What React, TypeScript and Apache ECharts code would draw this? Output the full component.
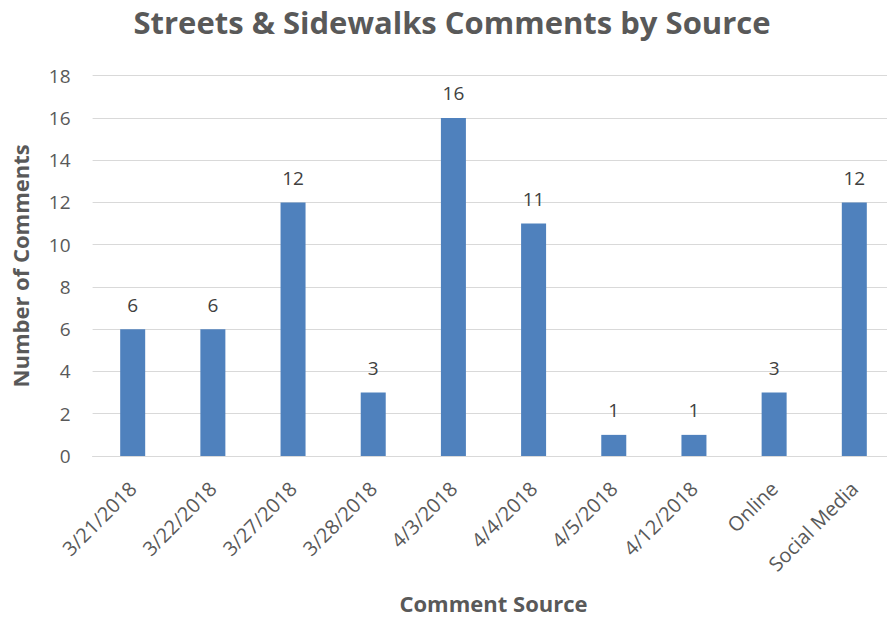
import React, { useEffect, useRef } from "react";
import * as echarts from "echarts";

const categories = ["3/21/2018", "3/22/2018", "3/27/2018", "3/28/2018", "4/3/2018", "4/4/2018", "4/5/2018", "4/12/2018", "Online", "Social Media"];
const commentCounts = [6, 6, 12, 3, 16, 11, 1, 1, 3, 12];
const yTicks = [0, 2, 4, 6, 8, 10, 12, 14, 16, 18];

const FONT = "'Open Sans', 'Noto Sans', sans-serif";

export default function App() {
  const ref = useRef<HTMLDivElement>(null);
  useEffect(() => {
    if (!ref.current) return;
    const chart = echarts.init(ref.current, null, { renderer: "svg" });
    chart.setOption({
      animation: false,
      backgroundColor: "#ffffff",
      title: {
        text: "Streets & Sidewalks Comments by Source",
        left: 447,
        textAlign: "center",
        top: 1,
        textStyle: { fontFamily: FONT, fontSize: 31, fontWeight: "bold", color: "#595959" },
      },
      grid: { left: 92.6, right: 5.6, top: 75.7, bottom: 159, containLabel: false },
      xAxis: {
        type: "category",
        data: categories,
        axisLine: { show: true, lineStyle: { color: "#d9d9d9", width: 1 } },
        axisTick: { show: false },
        axisLabel: { rotate: 45, fontFamily: FONT, fontSize: 20, color: "#595959", margin: 29, interval: 0 },
        name: "Comment Source",
        nameLocation: "middle",
        nameGap: 136,
        nameTextStyle: { fontFamily: FONT, fontSize: 22, fontWeight: "bold", color: "#595959" },
      },
      yAxis: {
        type: "value",
        min: yTicks[0],
        max: yTicks[yTicks.length - 1],
        interval: 2,
        axisLine: { show: false },
        axisTick: { show: false },
        splitLine: { lineStyle: { color: "#d9d9d9", width: 1 } },
        axisLabel: { fontFamily: FONT, fontSize: 19, color: "#595959", margin: 22 },
        name: "Number of Comments",
        nameLocation: "middle",
        nameGap: 62,
        nameTextStyle: { fontFamily: FONT, fontSize: 22, fontWeight: "bold", color: "#595959" },
      },
      series: [
        {
          type: "bar",
          data: commentCounts,
          barWidth: 25,
          itemStyle: { color: "#4f81bd" },
          label: { show: true, position: "top", distance: 15, fontFamily: FONT, fontSize: 19, color: "#404040" },
        },
      ],
    });
    return () => chart.dispose();
  }, []);
  return <div ref={ref} style={{ position: "fixed", left: 0, top: 0, width: 900, height: 619 }} />;
}
